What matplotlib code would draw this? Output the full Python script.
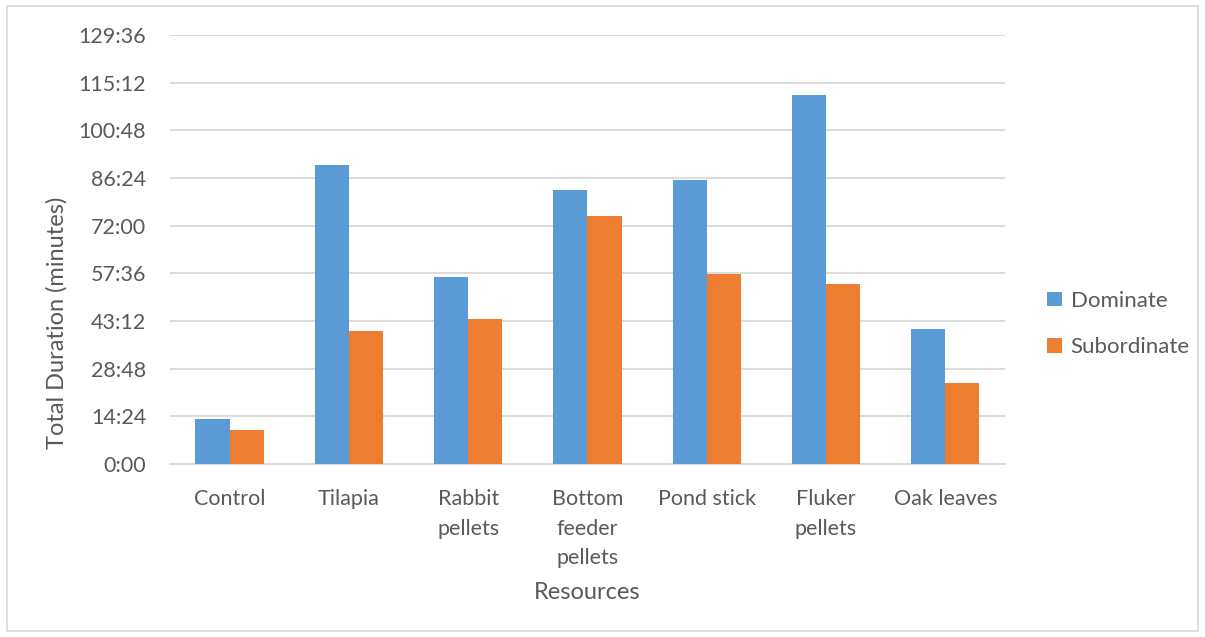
import matplotlib.pyplot as plt
import numpy as np
from matplotlib.patches import Rectangle
from matplotlib.ticker import FuncFormatter, MultipleLocator

# total time spent at each resource, in minutes
resources = ['Control', 'Tilapia', 'Rabbit\npellets', 'Bottom\nfeeder\npellets',
             'Pond stick', 'Fluker\npellets', 'Oak leaves']
dominate = [13.6, 90.2, 56.6, 82.8, 85.8, 111.4, 40.9]
subordinate = [10.3, 40.2, 43.8, 75.0, 57.3, 54.5, 24.5]

plt.rcParams['font.family'] = ['Lato', 'DejaVu Sans']
text_grey = '#595959'
grid_grey = '#D9D9D9'

fig = plt.figure(figsize=(12.05, 6.37), dpi=100)
ax = fig.add_axes([0.141, 0.2716, 0.693, 0.6734])

x = np.arange(len(resources))
w = 0.2857
ax.bar(x - w / 2, dominate, w, color='#5B9BD5', label='Dominate', zorder=3)
ax.bar(x + w / 2, subordinate, w, color='#ED7D31', label='Subordinate', zorder=3)

# minutes shown as m:ss
def mmss(v, pos):
    secs = int(round(v * 60))
    m, s = divmod(secs, 60)
    return f'{m}:{s:02d}'

ax.set_ylim(0, 129.6)
ax.set_xlim(-0.5, len(resources) - 0.5)
ax.yaxis.set_major_locator(MultipleLocator(14.4))
ax.yaxis.set_major_formatter(FuncFormatter(mmss))
ax.grid(axis='y', color=grid_grey, linewidth=1.3, zorder=0)

for s in ['top', 'right', 'left']:
    ax.spines[s].set_visible(False)
ax.spines['bottom'].set_color(grid_grey)
ax.spines['bottom'].set_linewidth(1.3)

ax.set_xticks(x)
ax.set_xticklabels(resources, linespacing=1.6)
ax.tick_params(axis='x', length=0, pad=18, labelsize=15.5, labelcolor=text_grey)
ax.tick_params(axis='y', length=0, pad=17, labelsize=15.5, labelcolor=text_grey)

ax.set_xlabel('Resources', fontsize=17, color=text_grey)
ax.xaxis.set_label_coords(0.5, -0.276)
ax.set_ylabel('Total Duration (minutes)', fontsize=17, color=text_grey)
ax.yaxis.set_label_coords(-0.122, 0.33)

ax.legend(loc='center left', bbox_to_anchor=(1.04, 0.326), frameon=False,
          borderaxespad=0, fontsize=16, labelcolor=text_grey,
          handlelength=0.65, handleheight=0.65, handletextpad=0.4,
          labelspacing=1.2)

# light frame around the whole chart
fig.patches.append(Rectangle((7 / 1205, 6 / 637), 1191 / 1205, 625 / 637,
                             transform=fig.transFigure, fill=False,
                             edgecolor=grid_grey, linewidth=1.2))

fig.savefig('out.png', dpi=100)
